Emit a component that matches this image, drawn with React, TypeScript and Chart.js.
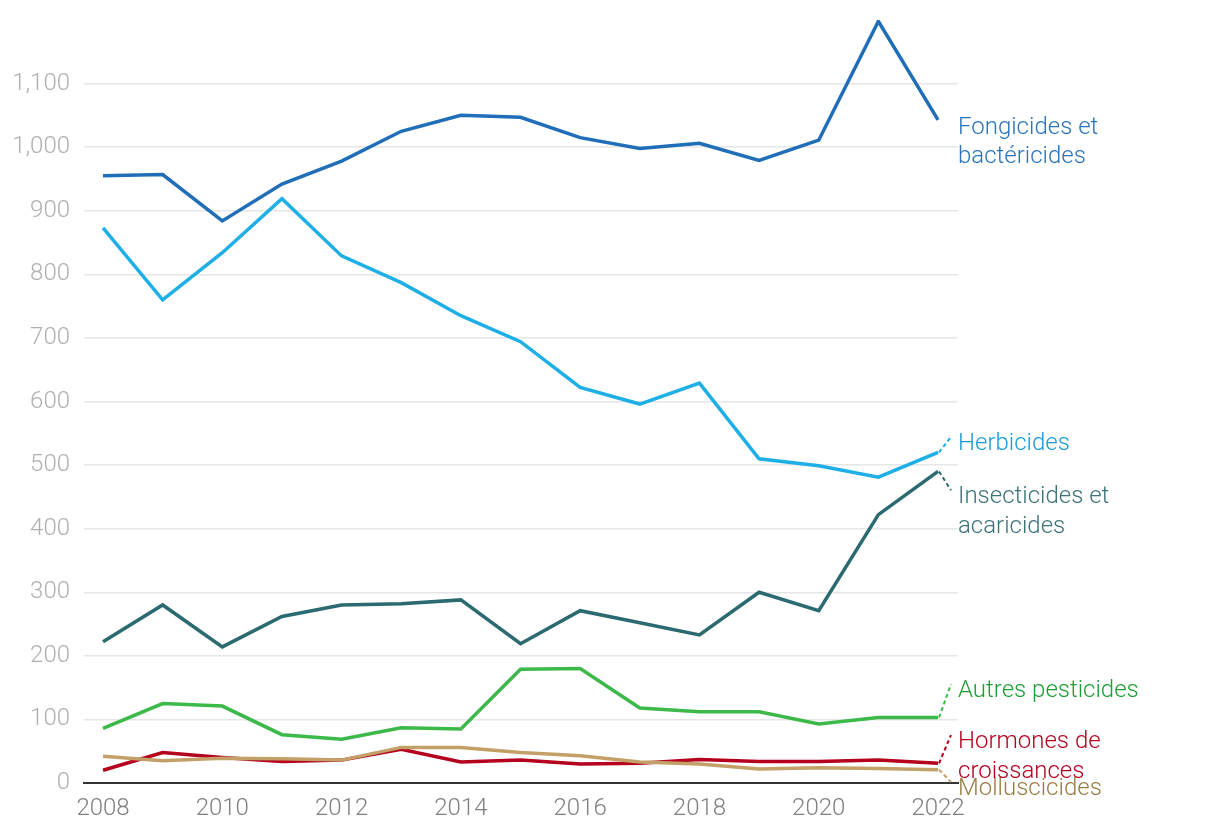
import React, { useEffect, useRef } from 'react';
import { Chart, registerables } from 'chart.js';

Chart.register(...registerables);

const years = [2008, 2009, 2010, 2011, 2012, 2013, 2014, 2015, 2016, 2017, 2018, 2019, 2020, 2021, 2022];
const fongicides = [955, 957, 884, 942, 978, 1025, 1050, 1047, 1015, 998, 1006, 979, 1011, 1198, 1043];
const herbicides = [873, 760, 834, 919, 829, 787, 735, 694, 622, 596, 629, 510, 499, 481, 520];
const insecticides = [222, 280, 214, 262, 280, 282, 288, 219, 271, 252, 233, 300, 271, 422, 490];
const autres = [86, 125, 121, 76, 69, 87, 85, 179, 180, 118, 112, 112, 93, 103, 103];
const molluscicides = [42, 35, 39, 38, 36, 56, 56, 48, 43, 33, 30, 22, 24, 23, 21];
const hormones = [20, 48, 40, 34, 36, 53, 33, 36, 30, 31, 37, 34, 34, 36, 31];

const seriesNames = [
  ['Fongicides et', 'bactéricides'],
  ['Herbicides'],
  ['Insecticides et', 'acaricides'],
  ['Autres pesticides'],
  ['Molluscicides'],
  ['Hormones de', 'croissances'],
];
const seriesData = [fongicides, herbicides, insecticides, autres, molluscicides, hormones];
const lineColors = ['#1f6eb7', '#1eafe6', '#2b6a70', '#3db94a', '#c2a068', '#b5001e'];
const labelColors = ['#2a74ba', '#1a9bd7', '#3c7279', '#1e9e32', '#9b7d43', '#b5001e'];
// label first-line baseline, in value units of the y axis
const labelBaseValues = [1021, 524, 440, 135, -19, 55];
const hasConnector = [false, true, true, true, true, true];

const FONT = 'Roboto, "Noto Sans", sans-serif';

const endLabelsPlugin = {
  id: 'endLabels',
  afterDatasetsDraw(chart: any) {
    const ctx = chart.ctx;
    const yScale = chart.scales.y;
    const textX = 958;
    const lineH = 29.5;
    ctx.save();
    chart.data.datasets.forEach((ds: any, i: number) => {
      const meta = chart.getDatasetMeta(i);
      const pt = meta.data[meta.data.length - 1];
      const base = yScale.getPixelForValue(labelBaseValues[i]);
      if (hasConnector[i]) {
        ctx.beginPath();
        ctx.setLineDash([4, 3]);
        ctx.lineWidth = 2;
        ctx.strokeStyle = lineColors[i];
        ctx.moveTo(pt.x + 1, pt.y);
        ctx.lineTo(textX - 7, base - 13);
        ctx.stroke();
        ctx.setLineDash([]);
      }
      ctx.fillStyle = labelColors[i];
      ctx.font = `300 24px ${FONT}`;
      ctx.textAlign = 'left';
      ctx.textBaseline = 'alphabetic';
      seriesNames[i].forEach((line, k) => {
        ctx.fillText(line, textX, base + k * lineH);
      });
    });
    ctx.restore();
  },
};

export default function App() {
  const canvasRef = useRef<HTMLCanvasElement | null>(null);

  useEffect(() => {
    if (!canvasRef.current) return;
    const chart = new Chart(canvasRef.current, {
      type: 'line',
      data: {
        datasets: seriesData.map((arr, i) => ({
          label: seriesNames[i].join(' '),
          data: arr.map((v, k) => ({ x: years[k], y: v })),
          borderColor: lineColors[i],
          backgroundColor: lineColors[i],
          borderWidth: 3.5,
          pointRadius: 0,
          pointHoverRadius: 0,
          tension: 0,
          fill: false,
        })),
      },
      options: {
        animation: false,
        responsive: true,
        maintainAspectRatio: false,
        layout: { padding: { left: 0, right: 262, top: 20, bottom: 0 } },
        plugins: {
          legend: { display: false },
          tooltip: { enabled: false },
        },
        scales: {
          x: {
            type: 'linear',
            min: 2007.681,
            max: 2022.335,
            grid: { display: false, drawTicks: false },
            border: { display: true, color: '#333333', width: 2 },
            ticks: {
              stepSize: 2,
              includeBounds: false,
              padding: 12,
              color: '#808080',
              font: { family: FONT, size: 24, weight: 300 },
              maxRotation: 0,
              autoSkip: false,
              callback: (v: any) => String(v),
            },
            afterFit: (s: any) => {
              s.height = 53;
              s.paddingLeft = 0;
              s.paddingRight = 0;
            },
          },
          y: {
            min: 0,
            max: 1200,
            grid: {
              drawTicks: false,
              lineWidth: 1.5,
              color: (c: any) => (c.tick && c.tick.value === 1200 ? 'rgba(0,0,0,0)' : '#e6e6e6'),
            },
            border: { display: false },
            ticks: {
              stepSize: 100,
              padding: 14,
              color: '#b0b0b0',
              font: { family: FONT, size: 24, weight: 300 },
              callback: (v: any) => (v === 1200 ? '' : Number(v).toLocaleString('en-US')),
            },
            afterFit: (s: any) => {
              s.width = 84;
              s.paddingTop = 0;
              s.paddingBottom = 0;
            },
          },
        },
      },
      plugins: [endLabelsPlugin],
    });
    return () => chart.destroy();
  }, []);

  return (
    <div style={{ position: 'fixed', left: 0, top: 0, width: 1220, height: 836, background: '#ffffff' }}>
      <canvas ref={canvasRef} />
    </div>
  );
}
